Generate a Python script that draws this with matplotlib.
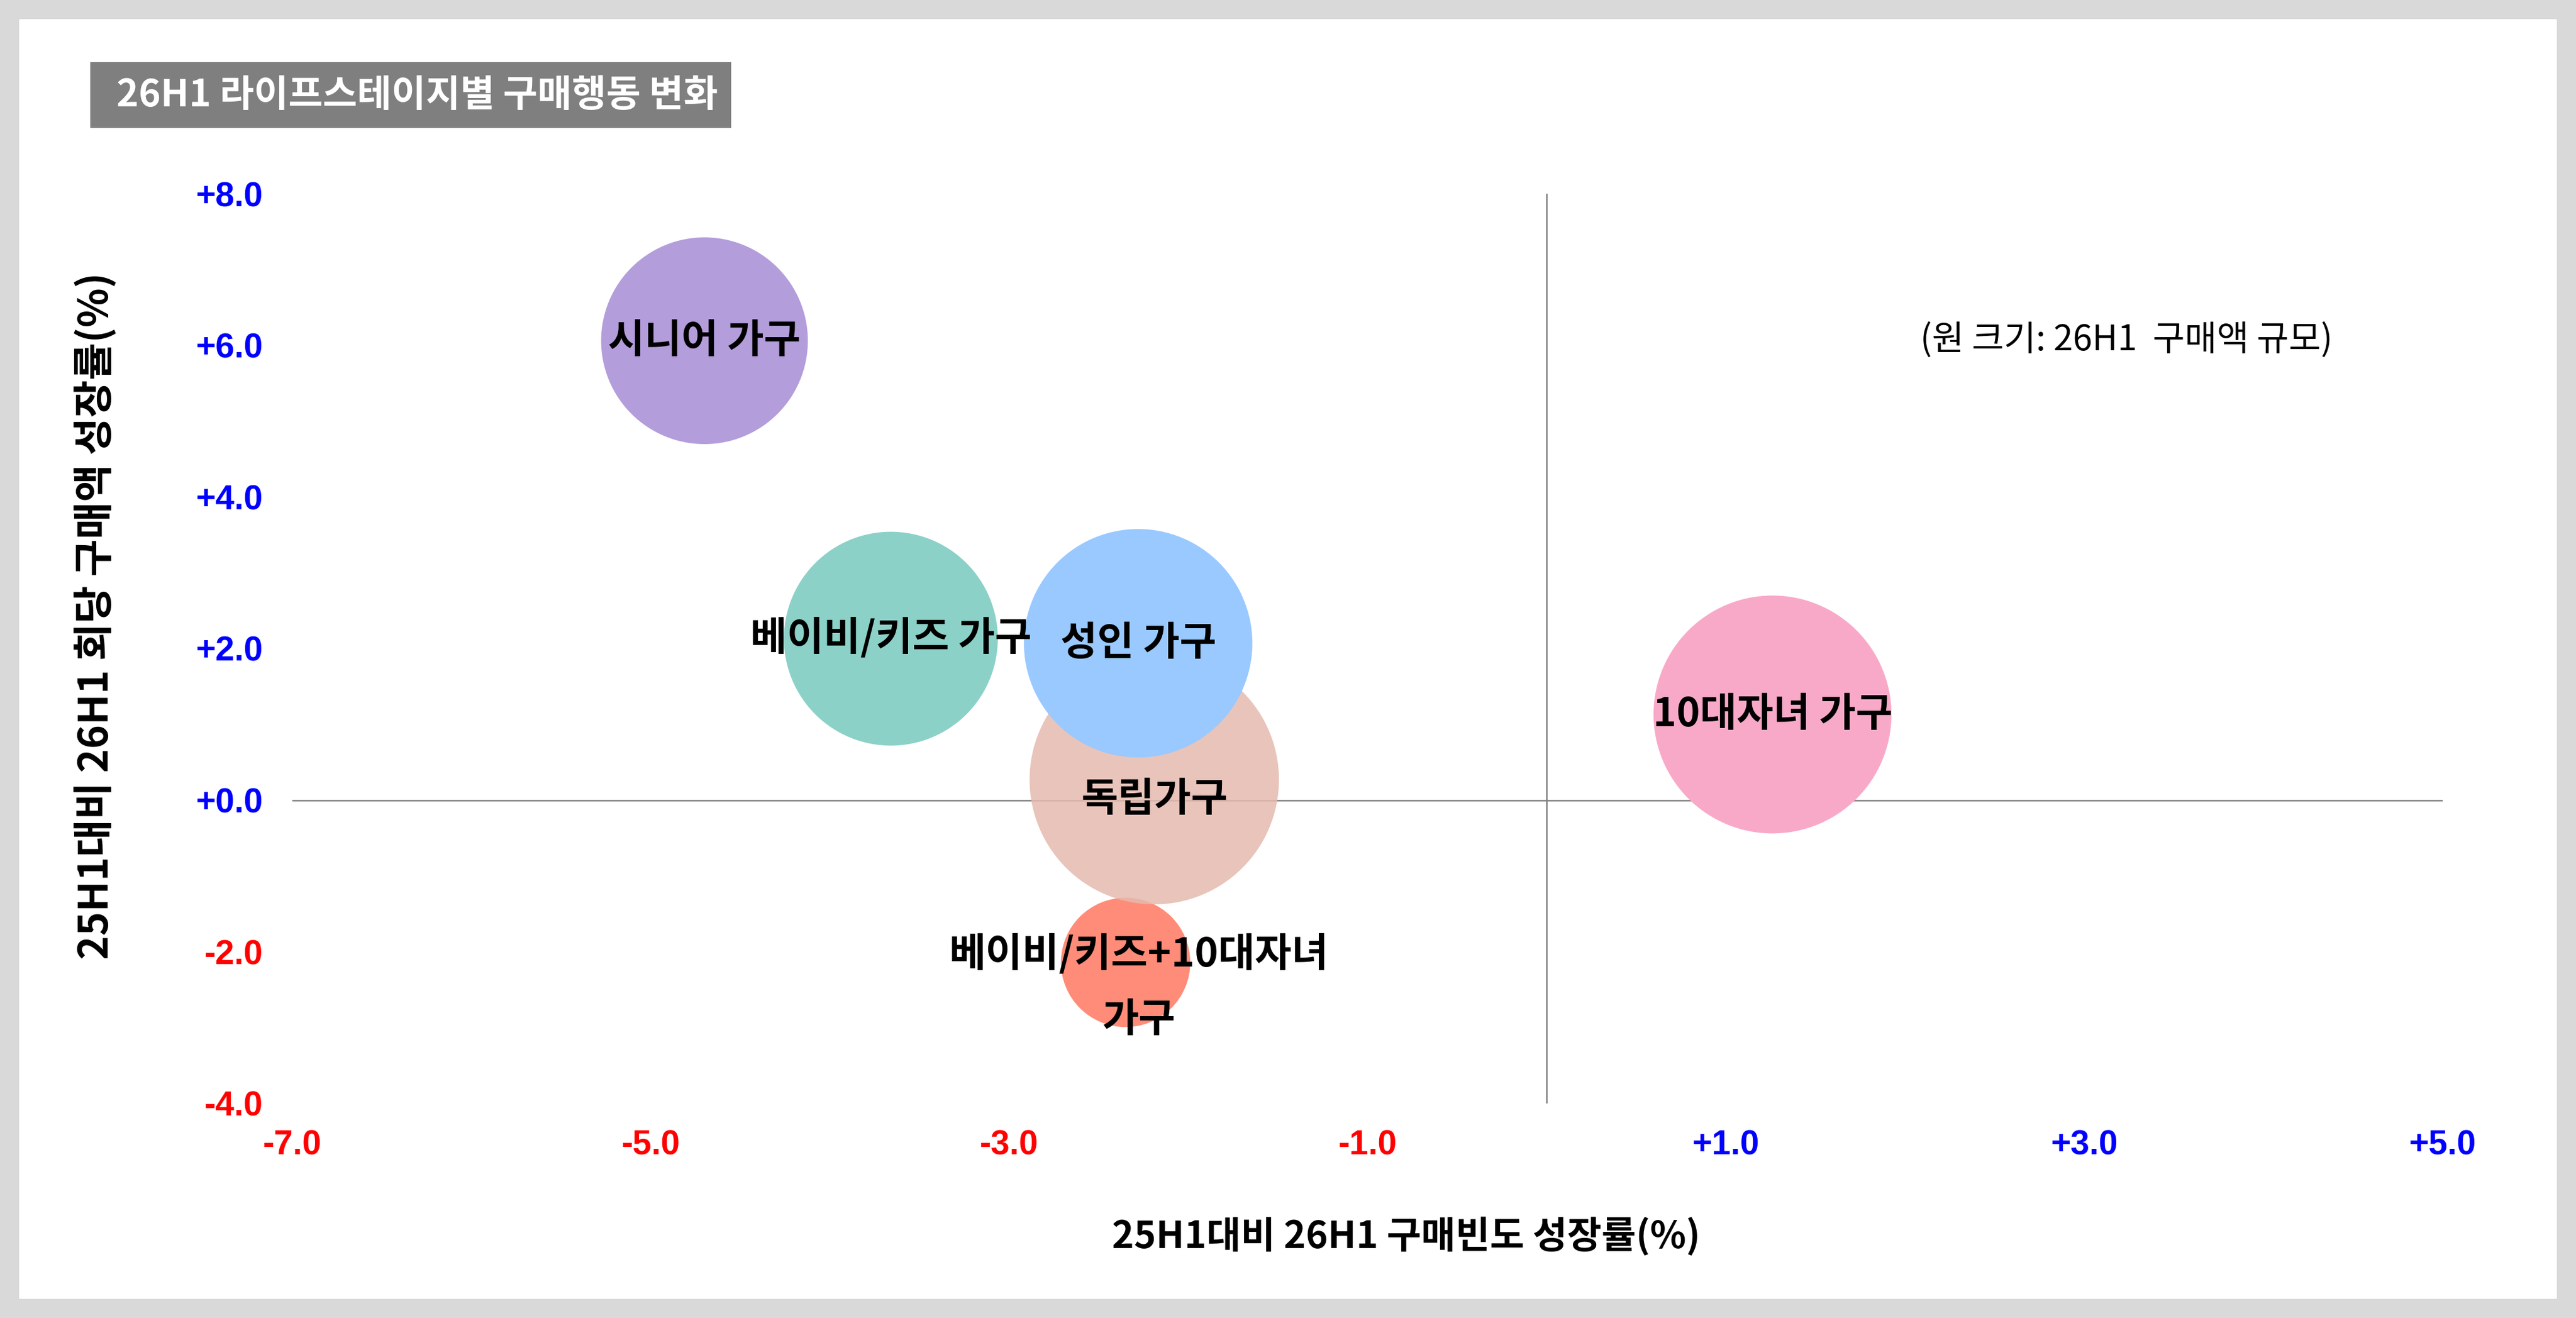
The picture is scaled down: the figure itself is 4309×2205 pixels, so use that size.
import numpy as np
import matplotlib.pyplot as plt
from matplotlib.patches import Rectangle

plt.rcParams['font.family'] = ['Noto Sans CJK KR', 'DejaVu Sans']

# data
segments = ['시니어 가구', '베이비/키즈 가구', '베이비/키즈+10대자녀\n가구',
            '독립가구', '성인 가구', '10대자녀 가구']
freq_growth = [-4.70, -3.66, -2.35, -2.19, -2.28, 1.26]     # x, %
amount_growth = [6.06, 2.13, -2.14, 0.27, 2.07, 1.13]       # y, %
spend_scale = [2.99, 3.20, 1.17, 4.35, 3.65, 3.96]          # bubble size (26H1 구매액 규모)

xticks = [-7, -5, -3, -1, 1, 3, 5]
yticks = [-4, -2, 0, 2, 4, 6, 8]

title = '26H1 라이프스테이지별 구매행동 변화'
xlabel = '25H1대비 26H1 구매빈도 성장률(%)'
ylabel = '25H1대비 26H1 회당 구매액 성장률(%)'
note = '(원 크기: 26H1  구매액 규모)'

colors = ['#b39ddb', '#8cd1c7', '#ff8c78', (229/255, 186/255, 175/255, 0.85),
          '#99c9ff', '#f9a9c8']
label_off = [(0, 0), (0, 0), (8, -15), (0, -12), (0, 0), (0, 0)]

W, H, DPI = 4309, 2205, 200
fig = plt.figure(figsize=(W / DPI, H / DPI), dpi=DPI, facecolor='#d9d9d9')
fig.patches.append(Rectangle((32 / W, 32 / H), 1 - 64 / W, 1 - 64 / H,
                             transform=fig.transFigure, facecolor='white',
                             edgecolor='none', zorder=-2))
fig.patches.append(Rectangle((151 / W, 1 - 214 / H), (1223 - 151) / W, 110 / H,
                             transform=fig.transFigure, facecolor='#7f7f7f',
                             edgecolor='none', zorder=-1))
fig.text(195 / W, 1 - 159 / H, title, color='white', fontsize=22.5,
         fontweight='bold', ha='left', va='center')

ax = fig.add_axes([489 / W, 1 - 1846 / H, (4086 - 489) / W, (1846 - 324) / H])
ax.set_facecolor('none')
ax.set_xlim(-7, 5)
ax.set_ylim(-4, 8)
for sp in ax.spines.values():
    sp.set_visible(False)

ax.axhline(0, color='#808080', lw=0.9, zorder=1)
ax.axvline(0, color='#808080', lw=0.9, zorder=1)

radius_pt = 100 * np.sqrt(spend_scale) * 72 / DPI
ax.scatter(freq_growth, amount_growth, s=(2 * radius_pt) ** 2, c=colors,
           linewidths=0, zorder=2)

for name, x, y, off in zip(segments, freq_growth, amount_growth, label_off):
    ax.annotate(name, (x, y), xytext=off, textcoords='offset points',
                ha='center', va='center', fontsize=24, fontweight='bold',
                linespacing=1.8, zorder=3)

tick_font = dict(family='Liberation Sans', fontweight='bold', fontsize=20.5)
ax.set_xticks(xticks)
ax.set_xticklabels([f'{v:+.1f}' for v in xticks], **tick_font)
ax.set_yticks(yticks)
ax.set_yticklabels([f'{v:+.1f}' for v in yticks], **tick_font)
for lab, v in zip(ax.get_xticklabels(), xticks):
    lab.set_color('red' if v < 0 else 'blue')
for lab, v in zip(ax.get_yticklabels(), yticks):
    lab.set_color('red' if v < 0 else 'blue')
ax.tick_params(axis='x', length=0, pad=15.8)
ax.tick_params(axis='y', length=0, pad=17.6)

fig.text(2352 / W, 1 - 2069 / H, xlabel, fontsize=22.5, fontweight='bold',
         ha='center', va='center')
fig.text(160 / W, 1 - 1030 / H, ylabel, fontsize=24.5, fontweight='bold',
         rotation=90, ha='center', va='center')
fig.text(3557 / W, 1 - 570 / H, note, fontsize=21, ha='center', va='center')

fig.savefig('out.png', dpi=DPI)
